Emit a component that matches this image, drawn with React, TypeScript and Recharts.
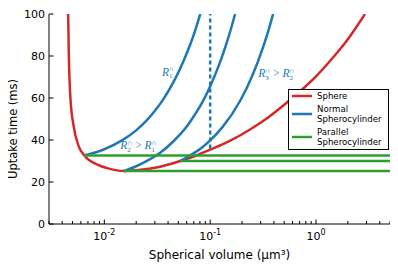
import React from 'react';
import { LineChart, Line, XAxis, YAxis, ReferenceDot } from 'recharts';

const RED = '#d62728';
const BLUE = '#1f77b4';
const GREEN = '#2ca02c';
const FONT = 'DejaVu Sans';

// Sphere uptake curve
const sphereV = [0.00455, 0.00462, 0.00478, 0.00513, 0.00573, 0.00648, 0.00884, 0.0118, 0.0152, 0.02, 0.0337, 0.0521, 0.0721, 0.1, 0.15, 0.238, 0.35, 0.528, 0.749, 1.0, 1.46, 2.0, 2.9];
const sphereT = [100, 80, 60, 46.5, 37, 32.6, 28, 26, 25.2, 25.6, 27.3, 30, 32.4, 35.4, 39.3, 45, 50.6, 57.7, 64.3, 70.3, 79.5, 88, 100];

// Normal spherocylinders
const normal1V = [0.00648, 0.01, 0.01468, 0.02, 0.025, 0.0303, 0.035, 0.0404, 0.0468, 0.056, 0.065, 0.07, 0.0806];
const normal1T = [32.6, 35.6, 39.8, 44.6, 49.2, 54.2, 58.4, 63.4, 69.2, 77.6, 85.7, 90.2, 100];
const normal2V = [0.0152, 0.02, 0.025, 0.0337, 0.045, 0.0603, 0.07, 0.0865, 0.1, 0.12, 0.1387, 0.155, 0.172];
const normal2T = [25.2, 27.5, 29.9, 33.9, 39.4, 46.5, 51.3, 59, 65.6, 75.2, 84.1, 91.9, 100];
const normal3V = [0.0521, 0.0721, 0.085, 0.1, 0.13, 0.192, 0.25, 0.318, 0.36, 0.393];
const normal3T = [30, 34.1, 36.7, 39.8, 46, 58.7, 70.6, 84.6, 93.2, 100];

// Parallel spherocylinders (horizontal)
const parallelStartV = [0.00648, 0.0521, 0.0152];
const parallelT = [32.6, 30, 25.2];
const parallelEndV = 5;

// dotted marker
const dottedV = 0.1;
const dottedT = [36, 100];

const xDomain: [number, number] = [0.003, 5];
const xMajor = [0.01, 0.1, 1];
const xMajorExp = ['-2', '-1', '0'];
const xMinor = [0.003, 0.004, 0.005, 0.006, 0.007, 0.008, 0.009, 0.02, 0.03, 0.04, 0.05, 0.06, 0.07, 0.08, 0.09, 0.2, 0.3, 0.4, 0.5, 0.6, 0.7, 0.8, 0.9, 2, 3, 4, 5];
const xTicks = [...xMinor, ...xMajor].sort((a, b) => a - b);
const yTicks = [0, 20, 40, 60, 80, 100];

const rows = (vs: number[], ts: number[]) => vs.map((v, i) => ({ v, t: ts[i] }));
const sphereData = rows(sphereV, sphereT);
const normalData = [rows(normal1V, normal1T), rows(normal2V, normal2T), rows(normal3V, normal3T)];
const parallelData = parallelStartV.map((v, i) => [{ v, t: parallelT[i] }, { v: parallelEndV, t: parallelT[i] }]);
const dottedData = dottedT.map((t) => ({ v: dottedV, t }));

const BottomTick = (p: any) => {
  const { x, y, payload } = p;
  const i = xMajor.indexOf(payload.value);
  const major = i >= 0;
  return (
    <g>
      <line x1={x} x2={x} y1={y} y2={y - (major ? 4.5 : 3)} stroke="#000" strokeWidth={1} />
      {major && (
        <text x={x} y={y + 16} textAnchor="middle" fontSize={11} fontFamily={FONT} fill="#000">
          10<tspan dy={-5} fontSize={8}>{xMajorExp[i]}</tspan>
        </text>
      )}
    </g>
  );
};

const TopTick = (p: any) => {
  const { x, y, payload } = p;
  const major = xMajor.indexOf(payload.value) >= 0;
  return <line x1={x} x2={x} y1={y} y2={y + (major ? 4.5 : 3)} stroke="#000" strokeWidth={1} />;
};

const LeftTick = (p: any) => {
  const { x, y, payload } = p;
  return (
    <g>
      <line x1={x} x2={x + 4.5} y1={y} y2={y} stroke="#000" strokeWidth={1} />
      <text x={x - 4} y={y} dy="0.36em" textAnchor="end" fontSize={11} fontFamily={FONT} fill="#000">
        {payload.value}
      </text>
    </g>
  );
};

const RightTick = (p: any) => {
  const { x, y } = p;
  return <line x1={x} x2={x - 4.5} y1={y} y2={y} stroke="#000" strokeWidth={1} />;
};

const RText = ({ x, y, parts }: { x: number; y: number; parts: string[] }) => {
  const children: any[] = [];
  children.push(<tspan key="r1">R</tspan>);
  children.push(<tspan key="s1" dy={2.5} fontSize={7} fontStyle="normal">{parts[0]}</tspan>);
  children.push(<tspan key="p1" dx={-3.6} dy={-7} fontSize={7} fontStyle="normal">∩</tspan>);
  if (parts.length > 1) {
    children.push(<tspan key="gt" dy={4.5} fontStyle="normal"> &gt; </tspan>);
    children.push(<tspan key="r2">R</tspan>);
    children.push(<tspan key="s2" dy={2.5} fontSize={7} fontStyle="normal">{parts[1]}</tspan>);
    children.push(<tspan key="p2" dx={-3.6} dy={-7} fontSize={7} fontStyle="normal">∩</tspan>);
  }
  return (
    <text x={x} y={y} fontFamily="Liberation Serif" fontStyle="italic" fontSize={11.5} fill={BLUE}>
      {children}
    </text>
  );
};

const annot = (parts: string[]) => (p: any) => {
  const vb = p.viewBox || {};
  return <RText x={vb.x + (vb.width || 0) / 2} y={vb.y + (vb.height || 0) / 2} parts={parts} />;
};

const legendItems = [
  { color: RED, lines: ['Sphere'] },
  { color: BLUE, lines: ['Normal', 'Spherocylinder'] },
  { color: GREEN, lines: ['Parallel', 'Spherocylinder'] },
];

export default function App() {
  return (
    <div style={{ position: 'relative', width: 390, height: 262 }}>
      <style>{'svg.recharts-surface{overflow:visible}'}</style>
      <LineChart width={390} height={262} margin={{ top: 6, right: 8, bottom: 0, left: 0 }}>
        <XAxis
          xAxisId="b"
          dataKey="v"
          type="number"
          scale="log"
          domain={xDomain}
          allowDataOverflow
          ticks={xTicks}
          interval={0}
          tick={BottomTick}
          tickLine={false}
          tickSize={0}
          tickMargin={0}
          height={46}
          axisLine={{ stroke: '#000' }}
          label={{
            content: (p: any) => {
              const vb = p.viewBox;
              return (
                <text x={vb.x + vb.width / 2} y={vb.y + 35} textAnchor="middle" fontSize={12} fontFamily={FONT} fill="#000">
                  Spherical volume (μm³)
                </text>
              );
            },
          }}
        />
        <XAxis
          xAxisId="t"
          orientation="top"
          type="number"
          scale="log"
          domain={xDomain}
          allowDataOverflow
          ticks={xTicks}
          interval={0}
          tick={TopTick}
          tickLine={false}
          tickSize={0}
          tickMargin={0}
          height={0}
          axisLine={{ stroke: '#000' }}
        />
        <YAxis
          yAxisId="l"
          type="number"
          domain={[0, 100]}
          allowDataOverflow
          ticks={yTicks}
          interval={0}
          tick={LeftTick}
          tickLine={false}
          tickSize={0}
          tickMargin={0}
          width={41}
          axisLine={{ stroke: '#000' }}
          label={{
            content: (p: any) => {
              const vb = p.viewBox;
              const cx = vb.x + 5;
              const cy = vb.y + 115;
              return (
                <text x={cx} y={cy} transform={`rotate(-90, ${cx}, ${cy})`} textAnchor="middle" dy="0.36em" fontSize={11.5} fontFamily={FONT} fill="#000">
                  Uptake time (ms)
                </text>
              );
            },
          }}
        />
        <YAxis
          yAxisId="r"
          orientation="right"
          type="number"
          domain={[0, 100]}
          allowDataOverflow
          ticks={yTicks}
          interval={0}
          tick={RightTick}
          tickLine={false}
          tickSize={0}
          tickMargin={0}
          width={0}
          axisLine={{ stroke: '#000' }}
        />
        <Line xAxisId="b" yAxisId="l" data={sphereData} dataKey="t" type="monotone" stroke={RED} strokeWidth={2.5} dot={false} isAnimationActive={false} />
        {normalData.map((d, i) => (
          <Line key={'n' + i} xAxisId="b" yAxisId="l" data={d} dataKey="t" type="monotone" stroke={BLUE} strokeWidth={2.5} dot={false} isAnimationActive={false} />
        ))}
        <Line xAxisId="b" yAxisId="l" data={dottedData} dataKey="t" type="linear" stroke={BLUE} strokeWidth={2.5} strokeDasharray="4 3" dot={false} isAnimationActive={false} />
        {parallelData.map((d, i) => (
          <Line key={'p' + i} xAxisId="b" yAxisId="l" data={d} dataKey="t" type="linear" stroke={GREEN} strokeWidth={2.5} dot={false} isAnimationActive={false} />
        ))}
        <ReferenceDot xAxisId="b" yAxisId="l" x={0.035} y={70.5} r={1} fill="none" stroke="none" ifOverflow="visible" label={{ content: annot(['1']) }} />
        <ReferenceDot xAxisId="b" yAxisId="l" x={0.01416} y={35.5} r={1} fill="none" stroke="none" ifOverflow="visible" label={{ content: annot(['2', '1']) }} />
        <ReferenceDot xAxisId="b" yAxisId="l" x={0.284} y={70} r={1} fill="none" stroke="none" ifOverflow="visible" label={{ content: annot(['3', '2']) }} />
      </LineChart>
      <svg width={102} height={62} style={{ position: 'absolute', left: 279.5, top: 80.5 }}>
        <rect x={0.5} y={0.5} width={100} height={60} fill="#fff" stroke="#000" strokeWidth={1} />
        {legendItems.map((it, i) => {
          const hy = [7, 25, 48][i];
          return (
            <g key={i}>
              <line x1={4} x2={24} y1={hy} y2={hy} stroke={it.color} strokeWidth={2.5} />
              {it.lines.map((s, j) => {
                const ty = it.lines.length === 1 ? hy : hy - 5 + j * 10;
                return (
                  <text key={j} x={29} y={ty} dy="0.36em" fontSize={8.6} fontFamily={FONT} fill="#000">
                    {s}
                  </text>
                );
              })}
            </g>
          );
        })}
      </svg>
    </div>
  );
}
